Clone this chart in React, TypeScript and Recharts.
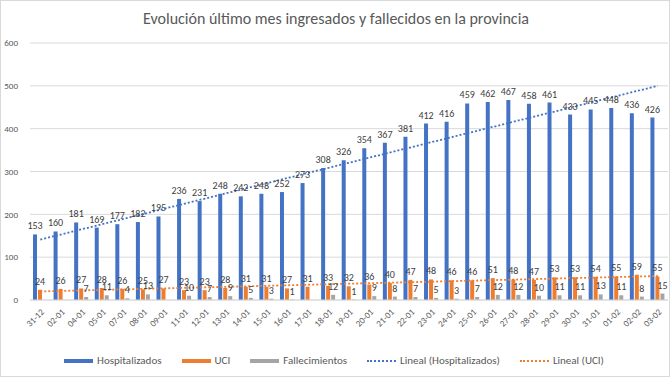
import React from 'react';
import {
  ComposedChart, Bar, XAxis, YAxis, CartesianGrid, LabelList, ReferenceLine, Legend
} from 'recharts';

const categories = [
  '31-12', '02-01', '04-01', '05-01', '07-01', '08-01', '09-01', '11-01', '12-01', '13-01',
  '14-01', '15-01', '16-01', '17-01', '18-01', '19-01', '20-01', '21-01', '22-01', '23-01',
  '24-01', '25-01', '26-01', '27-01', '28-01', '29-01', '30-01', '31-01', '01-02', '02-02', '03-02',
];

const hospitalizados = [
  153, 160, 181, 169, 177, 182, 195, 236, 231, 248,
  242, 248, 252, 273, 308, 326, 354, 367, 381, 412,
  416, 459, 462, 467, 458, 461, 433, 445, 448, 436, 426,
];

const uci = [
  24, 26, 27, 28, 26, 25, 27, 23, 23, 28,
  31, 31, 27, 31, 33, 32, 36, 40, 47, 48,
  46, 46, 51, 48, 47, 53, 53, 54, 55, 59, 55,
];

const fallecimientos = [
  null, null, 7, 11, 4, 13, null, 10, 7, 9,
  5, 3, 1, null, 12, 1, 9, 8, 7, 5,
  3, 7, 12, 12, 10, 11, 11, 13, 11, 8, 15,
];

// trend line end points (first / last category)
const trendHospitalizados = [141, 500];
const trendUci = [20, 56];

const yTicks = [0, 100, 200, 300, 400, 500, 600];

const legendItems = [
  { name: 'Hospitalizados', color: '#4472C4', dotted: false },
  { name: 'UCI', color: '#ED7D31', dotted: false },
  { name: 'Fallecimientos', color: '#A5A5A5', dotted: false },
  { name: 'Lineal (Hospitalizados)', color: '#4472C4', dotted: true },
  { name: 'Lineal (UCI)', color: '#ED7D31', dotted: true },
];

const data = categories.map((fecha, i) => ({
  fecha,
  hospitalizados: hospitalizados[i],
  uci: uci[i],
  fallecimientos: fallecimientos[i],
}));

const FONT = 'Carlito, Lato, "Open Sans", sans-serif';
const first = categories[0];
const last = categories[categories.length - 1];

function ChartLegend() {
  return (
    <div style={{ display: 'flex', justifyContent: 'center', alignItems: 'center', gap: 20, fontSize: 11, color: '#595959', fontFamily: FONT }}>
      {legendItems.map((item) => (
        <div key={item.name} style={{ display: 'flex', alignItems: 'center', gap: 4 }}>
          {item.dotted ? (
            <span style={{ width: 29, height: 0, borderTop: `2px dotted ${item.color}` }} />
          ) : (
            <span style={{ width: 29, height: 4, background: item.color }} />
          )}
          <span>{item.name}</span>
        </div>
      ))}
    </div>
  );
}

export default function App() {
  const labelStyle = { fill: '#404040', fontSize: 10, fontFamily: FONT };
  return (
    <div style={{ position: 'absolute', top: 0, left: 0, width: 670, height: 377, background: '#fff', border: '1px solid #d9d9d9', boxSizing: 'border-box', fontFamily: FONT }}>
      <div style={{ position: 'absolute', top: 8, left: 0, width: 670, textAlign: 'center', fontSize: 16, color: '#595959' }}>
        Evolución último mes ingresados y fallecidos en la provincia
      </div>
      <div style={{ position: 'absolute', top: -1, left: -1 }}>
        <ComposedChart width={670} height={377} data={data} margin={{ top: 43, right: 2, left: 0, bottom: 34 }} barSize={4} barGap={1}>
          <CartesianGrid vertical={false} stroke="#d9d9d9" />
          <XAxis
            dataKey="fecha"
            interval={0}
            height={30}
            axisLine={{ stroke: '#d9d9d9' }}
            tickLine={false}
            angle={-45}
            textAnchor="end"
            tick={{ fill: '#595959', fontSize: 9, fontFamily: FONT }}
            tickMargin={2}
          />
          <YAxis
            domain={[0, 600]}
            ticks={yTicks}
            width={30}
            axisLine={false}
            tickLine={false}
            tickMargin={6}
            tick={{ fill: '#595959', fontSize: 9, fontFamily: FONT }}
          />
          <Bar dataKey="hospitalizados" fill="#4472C4" isAnimationActive={false}>
            <LabelList dataKey="hospitalizados" position="top" offset={5} style={labelStyle} />
          </Bar>
          <Bar dataKey="uci" fill="#ED7D31" isAnimationActive={false}>
            <LabelList dataKey="uci" position="top" offset={5} style={labelStyle} />
          </Bar>
          <Bar dataKey="fallecimientos" fill="#A5A5A5" isAnimationActive={false}>
            <LabelList dataKey="fallecimientos" position="top" offset={5} style={labelStyle} />
          </Bar>
          <ReferenceLine
            segment={[{ x: first, y: trendHospitalizados[0] }, { x: last, y: trendHospitalizados[1] }]}
            stroke="#4472C4"
            strokeWidth={1.8}
            strokeDasharray="2 2"
          />
          <ReferenceLine
            segment={[{ x: first, y: trendUci[0] }, { x: last, y: trendUci[1] }]}
            stroke="#ED7D31"
            strokeWidth={1.8}
            strokeDasharray="2 2"
          />
          <Legend verticalAlign="bottom" content={() => <ChartLegend />} wrapperStyle={{ bottom: 10 }} />
        </ComposedChart>
      </div>
    </div>
  );
}
